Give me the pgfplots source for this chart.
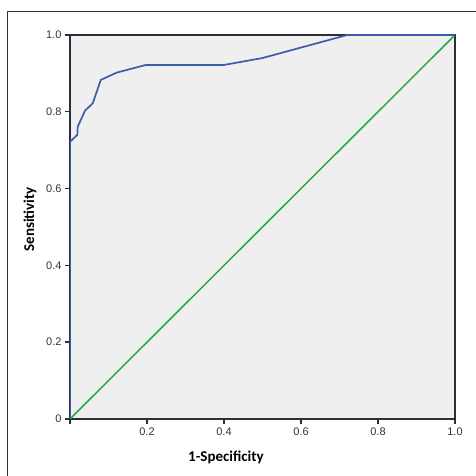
\documentclass[border=0pt]{standalone}
\usepackage{fontspec}
\setmainfont{Liberation Sans}
\newfontfamily\labelfont{Carlito}
\usepackage{pgfplots}
\pgfplotsset{compat=1.18}
\definecolor{rocblue}{HTML}{3D5DA8}
\definecolor{refgreen}{HTML}{22AA4A}
\definecolor{plotbg}{HTML}{EFEFEF}
\definecolor{axisdark}{HTML}{2A2D3A}

\begin{document}
\begin{tikzpicture}
\useasboundingbox (-70pt,-57pt) rectangle (406pt,419pt);
% outer frame
\draw[line width=1pt, black!80] (-62pt,-60pt) -- (-62pt,407pt) -- (410pt,407pt);
\begin{axis}[
  at={(0pt,0pt)}, anchor=origin,
  scale only axis, width=385pt, height=384pt,
  xmin=0, xmax=1, ymin=0, ymax=1,
  axis background/.style={fill=plotbg},
  axis line style={axisdark, line width=1.8pt},
  xtick={0,0.2,0.4,0.6,0.8,1.0},
  xticklabels={,0.2,0.4,0.6,0.8,1.0},
  ytick={0,0.2,0.4,0.6,0.8,1.0},
  yticklabels={0,0.2,0.4,0.6,0.8,1.0},
  tick align=outside, tick pos=left,
  major tick length=5pt,
  tick style={axisdark, line width=1.4pt},
  tick label style={font=\fontsize{11}{12}\selectfont, text=black!80},
  /pgf/number format/assume math mode=true,
  xlabel={\fontsize{15}{17}\selectfont\labelfont\bfseries 1-Specificity},
  ylabel={\fontsize{15}{17}\selectfont\labelfont\bfseries Sensitivity},
  every axis x label/.style={at={(axis description cs:0.405,-0.099)}, anchor=center},
  every axis y label/.style={at={(axis description cs:-0.104,0.52)}, rotate=90, anchor=center},
]
\addplot[refgreen, line width=1.5pt] coordinates {(0,0) (1,1)};
\addplot[rocblue, line width=1.7pt] coordinates {
  (0,0) (0,0.722) (0.019,0.740) (0.020,0.761) (0.039,0.803) (0.059,0.822)
  (0.080,0.883) (0.121,0.902) (0.197,0.922) (0.400,0.922) (0.500,0.940)
  (0.720,1.000) (1.000,1.000)};
\end{axis}
\end{tikzpicture}
\end{document}
